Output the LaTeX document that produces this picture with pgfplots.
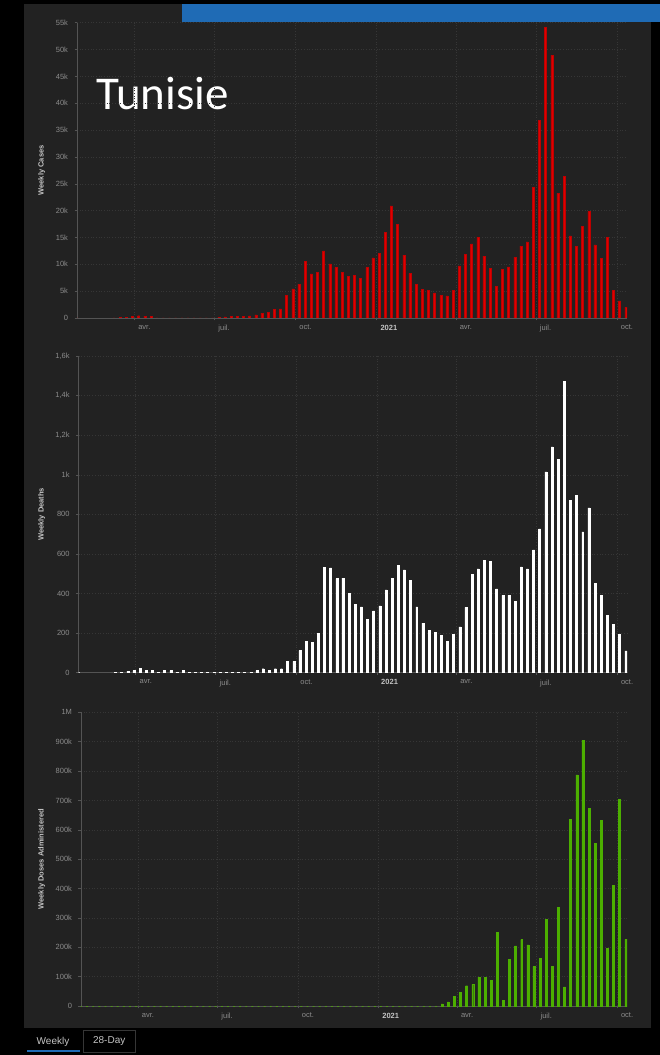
\documentclass[border=0pt]{standalone}
\usepackage{fontspec}
\setmainfont{Liberation Sans}
\newfontfamily\carlito{Carlito}
\usepackage{pgfplots}
\usepackage{pgfplotstable}
\pgfplotsset{compat=1.18}
\definecolor{panel}{HTML}{222222}
\definecolor{gridc}{HTML}{363636}
\definecolor{axc}{HTML}{545454}
\definecolor{tickc}{HTML}{8C8C8C}
\definecolor{labc}{HTML}{C4C4C4}
\definecolor{blueb}{HTML}{1F6BB5}
\definecolor{redb}{HTML}{E00000}
\definecolor{greenb}{HTML}{4CAF00}

% wk = week index (first bar = late Jan 2020), weekly totals
\pgfplotstableread{
wk cases deaths doses
0 0 0 0
1 nan nan 0
2 nan nan 0
3 nan nan 0
4 nan nan 0
5 nan nan 0
6 20 2 0
7 50 2 0
8 80 8 0
9 350 10 0
10 420 21 0
11 350 12 0
12 300 12 0
13 30 3 0
14 30 10 0
15 30 10 0
16 30 3 0
17 30 10 0
18 30 2 0
19 30 2 0
20 30 1 0
21 30 2 0
22 30 1 0
23 80 2 0
24 200 2 0
25 250 2 0
26 300 2 0
27 350 3 0
28 400 3 0
29 600 10 0
30 900 20 0
31 1000 10 0
32 1600 20 0
33 1700 20 0
34 4200 57 0
35 5400 57 0
36 6300 111 0
37 10500 160 0
38 8200 153 0
39 8500 198 0
40 12500 532 0
41 10100 529 0
42 9400 475 0
43 8500 478 0
44 7800 401 0
45 7900 347 0
46 7400 333 0
47 9400 268 0
48 11200 312 0
49 12100 338 0
50 15900 419 0
51 20900 478 0
52 17500 544 0
53 11700 520 0
54 8300 465 0
55 6300 333 0
56 5300 251 0
57 5100 213 0
58 4700 202 0
59 4200 190 7000
60 4100 160 14000
61 5100 194 34000
62 9700 232 47000
63 11900 330 69000
64 13800 495 74000
65 15000 525 98000
66 11500 566 98000
67 9300 563 87000
68 5900 423 251000
69 9000 391 20000
70 9500 391 159000
71 11300 362 205000
72 13400 535 226000
73 14200 525 208000
74 24300 621 134000
75 36800 727 162000
76 54100 1014 296000
77 48900 1141 134000
78 23200 1078 336000
79 26400 1470 65000
80 15300 869 636000
81 13400 897 787000
82 17100 712 905000
83 19800 833 673000
84 13600 451 553000
85 11100 391 633000
86 15000 288 196000
87 5200 246 411000
88 3200 194 703000
89 2000 110 227000
}\weekly

\pgfplotsset{
  panelaxis/.style={
    scale only axis, xmin=0, xmax=89.2, ymin=0,
    axis lines=left, axis line style={draw=axc,-,line width=0.6pt},
    tick align=outside, major tick length=2.5pt,
    tick style={draw=axc,line width=0.5pt},
    grid=major, grid style={draw=gridc,line width=0.5pt,dash pattern=on 0.9pt off 1.8pt},
    xtick={9.29,22.29,35.43,48.57,61.43,74.43,87.57},
    xticklabels={avr.,juil.,oct.,{\color{labc}\bfseries 2021},avr.,juil.,oct.},
    tick label style={font=\fontsize{7.5}{9}\selectfont, text=tickc},
    xticklabel style={anchor=north west, xshift=0.5pt, yshift=-1pt},
    yticklabel style={xshift=-3pt},
    scaled y ticks=false,
    ylabel style={font=\bfseries\fontsize{7.5}{9}\selectfont, text=labc, anchor=center},
    ybar, bar shift=0pt, bar width=0.32,
  },
}

\begin{document}
\begin{tikzpicture}
\fill[black] (0pt,0pt) rectangle (660pt,1055pt);
\fill[panel] (24pt,27pt) rectangle (651pt,1051pt);
\fill[blueb] (182pt,1033pt) rectangle (660pt,1051pt);

\node[anchor=base west, inner sep=0, text=white] at (96pt,945.7pt)
  {\carlito\fontsize{47}{50}\selectfont Tunisie};

% tabs
\fill[blueb] (26.5pt,3pt) rectangle (79.5pt,5pt);
\node[text=labc] at (53pt,13.5pt) {\fontsize{10}{12}\selectfont Weekly};
\draw[gridc, line width=0.8pt] (83pt,3pt) rectangle (135pt,25pt);
\node[text=labc] at (109.2pt,13.5pt) {\fontsize{10}{12}\selectfont 28-Day};

% cases
\begin{axis}[panelaxis, at={(77pt,737pt)}, anchor=origin, width=550pt, height=295.3pt,
  ymax=55000, ytick={0,5000,...,55000},
  yticklabels={0,5k,10k,15k,20k,25k,30k,35k,40k,45k,50k,55k},
  ylabel={Weekly Cases}, ylabel style={at={(axis description cs:-0.0642,0.5)}}]
\addplot[fill=redb, draw=redb!85!black, line width=0.45pt] table[x=wk, y=cases] {\weekly};
\end{axis}

% deaths
\begin{axis}[panelaxis, at={(78.6pt,382.3pt)}, anchor=origin, width=548.4pt, height=316.7pt,
  ymax=1600, ytick={0,200,...,1600},
  yticklabels={0,200,400,600,800,1k,{1,2k},{1,4k},{1,6k}},
  ylabel={Weekly Deaths}, ylabel style={at={(axis description cs:-0.0674,0.5)}}]
\addplot[fill=white, draw=white, line width=0.45pt] table[x=wk, y=deaths] {\weekly};
\end{axis}

% doses
\begin{axis}[panelaxis, at={(81pt,49pt)}, anchor=origin, width=546pt, height=293.7pt,
  ymax=1000000, ytick={0,100000,...,1000000},
  yticklabels={0,100k,200k,300k,400k,500k,600k,700k,800k,900k,1M},
  ylabel={Weekly Doses Administered}, ylabel style={at={(axis description cs:-0.072,0.5)}}]
\addplot[fill=greenb, draw=greenb, line width=0.45pt] table[x=wk, y=doses] {\weekly};
\end{axis}

\pgfresetboundingbox
\path[use as bounding box] (0pt,0pt) rectangle (660pt,1055pt);
\end{tikzpicture}
\end{document}
